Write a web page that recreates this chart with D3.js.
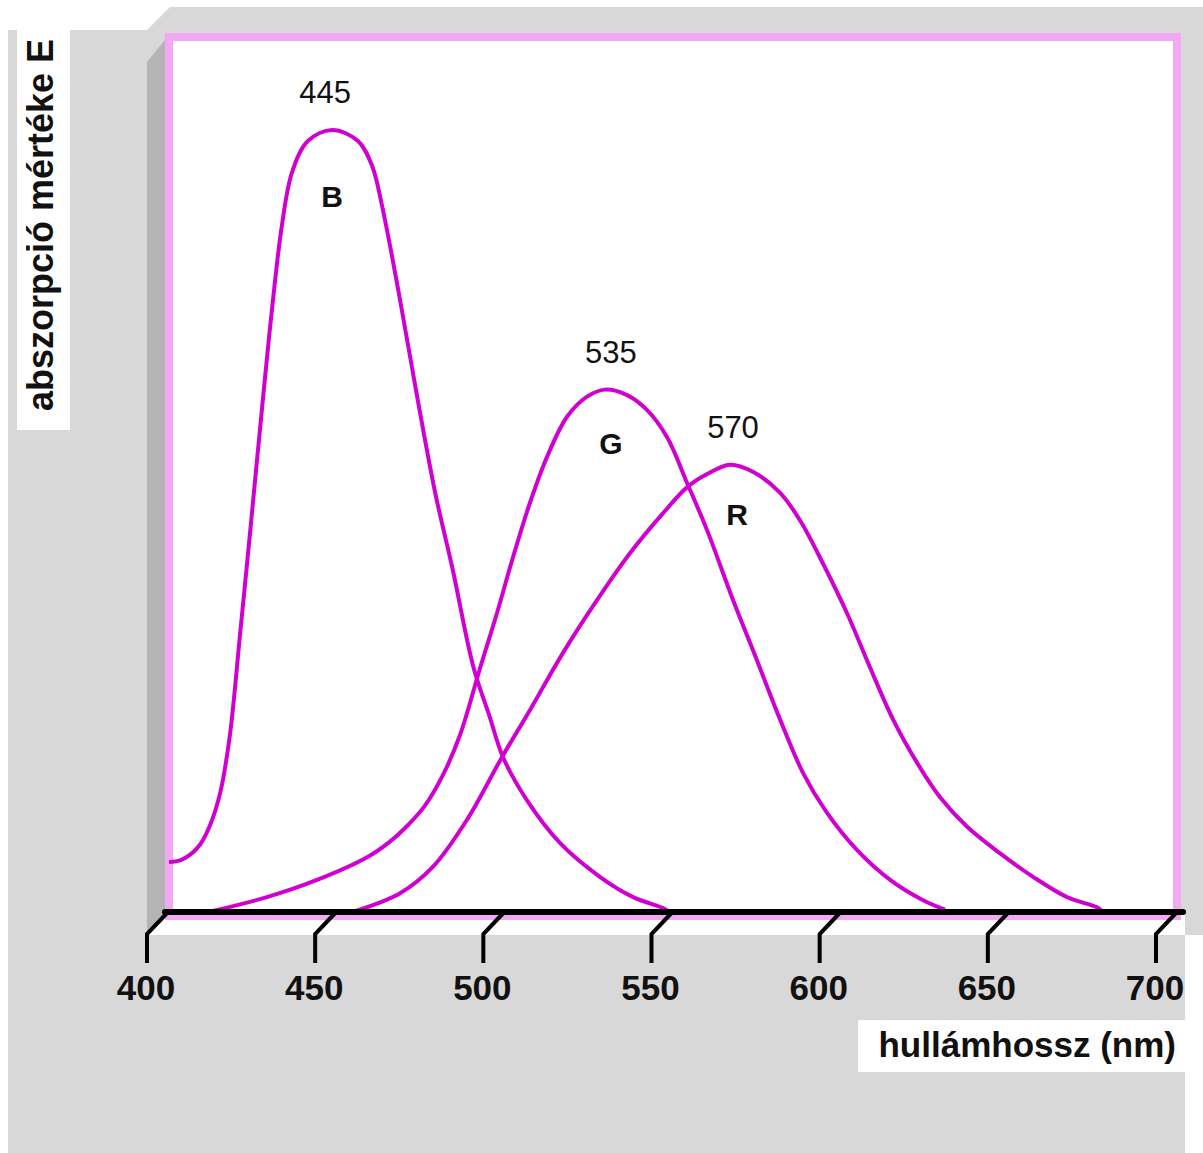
<!DOCTYPE html>
<html>
<head>
<meta charset="utf-8">
<script src="https://cdn.jsdelivr.net/npm/d3@7"></script>
<style>
  html, body { margin: 0; padding: 0; background: #ffffff; }
  svg { display: block; }
  text { font-family: "Liberation Sans", Arial, Helvetica, sans-serif; }
</style>
</head>
<body>
<div id="chart"></div>
<script>
// ---------- DATA ----------
const xTicks = [400, 450, 500, 550, 600, 650, 700];
const seriesNames = ["B", "G", "R"];
const peakLabels = ["445", "535", "570"];

// wavelength (nm) / relative absorption
const blueNm  = [400.3,403.6,406.5,409.5,412.5,415.5,418.4,421.4,424.4,428.2,430.9,433.9,436.9,441.6,448.8,456.5,460.7,463.6,468.4,474.0,479.4,484.7,490.7,495.7,499.6,506.7,516.6,528.4,538.3,547.2,548.7];
const blueVal = [6.4,6.6,7.3,8.6,11.1,15.2,22.6,35.4,48.5,65.5,77.0,87.9,94.6,98.6,100,98.6,95.4,90.4,79.7,66.1,53.7,43.7,31.5,24.9,19.8,14.3,8.8,4.5,1.9,0.5,0.1];

const greenNm  = [413.1,429.4,444.3,459.2,466.0,471.1,476.4,481.5,486.8,492.8,497.8,502.6,507.6,512.7,518.6,524.6,529.9,536.5,542.4,548.4,554.3,560.3,568.0,575.1,582.0,588.8,595.9,604.9,614.7,624.5,631.0];
const greenVal = [0.1,1.9,4.1,7.0,9.0,11.0,13.6,17.3,22.6,31.2,38.2,45.4,52.3,58.2,63.3,65.9,66.8,66.1,64.2,60.7,54.9,48.8,39.9,32.2,24.6,17.8,12.7,7.9,4.1,1.5,0.3];

const redNm  = [455.6,469.0,478.8,488.9,499.3,507.6,517.4,527.6,537.4,547.2,554.3,560.3,567.1,573.9,582.0,587.9,594.7,601.9,608.7,615.6,622.7,629.5,637.6,647.4,657.2,667.3,676.2,677.7];
const redVal = [0.1,2.4,5.8,11.8,19.8,25.8,33.1,39.9,45.9,51.0,54.3,56.0,57.2,56.3,53.6,50.1,44.6,38.2,31.3,24.6,19.1,14.7,10.9,7.5,4.5,1.9,0.6,0.1];

const yLabel = "abszorpció mértéke E";
const xLabel = "hullámhossz (nm)";

// ---------- LAYOUT ----------
const W = 1203, H = 1153;
const GRAY = "#d8d8d8", WALL = "#b4b4b4", PINK = "#f4a8f4", CURVE = "#d000d0";

const svg = d3.select("#chart").append("svg").attr("width", W).attr("height", H);

const x = d3.scaleLinear().domain([400, 700]).range([168, 1177]);
const y = d3.scaleLinear().domain([0, 100]).range([912, 130]);
const axisY = y(0);

// background gray shape
svg.append("path")
  .attr("d", "M8,30 L147,30 L170,7 L1203,7 L1203,935 L1185,935 L1185,1153 L8,1153 Z")
  .attr("fill", GRAY);

// y label box
svg.append("rect").attr("x", 17).attr("y", 30).attr("width", 53).attr("height", 400).attr("fill", "#fff");
svg.append("text")
  .attr("transform", "translate(53,225) rotate(-90)")
  .attr("text-anchor", "middle")
  .attr("font-size", 36).attr("font-weight", "bold").attr("fill", "#111")
  .text(yLabel);

// left wall
svg.append("path")
  .attr("d", `M147,62 L165,40 L165,${axisY} L147,${axisY + 22} Z`)
  .attr("fill", WALL);

// floor
svg.append("path")
  .attr("d", `M165,${axisY} L1185,${axisY} L1185,${axisY + 23} L147,${axisY + 23} Z`)
  .attr("fill", "#fff");

// plot area with pink border
svg.append("rect")
  .attr("x", 169).attr("y", 37).attr("width", 1008).attr("height", axisY - 37 + 4)
  .attr("fill", "#fff").attr("stroke", PINK).attr("stroke-width", 8);

// clip for curves
svg.append("clipPath").attr("id", "plotclip")
  .append("rect").attr("x", 168).attr("y", 40).attr("width", 1010).attr("height", axisY - 40);

const line = d3.line()
  .x(d => x(d[0])).y(d => y(d[1]))
  .curve(d3.curveCatmullRom.alpha(0.5));

const series = [
  d3.zip(blueNm, blueVal),
  d3.zip(greenNm, greenVal),
  d3.zip(redNm, redVal)
];

const g = svg.append("g").attr("clip-path", "url(#plotclip)");
series.forEach(s => {
  g.append("path").datum(s)
    .attr("d", line)
    .attr("fill", "none")
    .attr("stroke", CURVE)
    .attr("stroke-width", 4)
    .attr("stroke-linejoin", "round");
});

// peak labels
const letterOffset = [77, 64, 60];
const numberDx = [-7, 6, 3];
const letterDx = [0, 6, 7];
series.forEach((s, i) => {
  const peak = s.reduce((a, b) => (b[1] > a[1] ? b : a));
  const px = x(peak[0]), py = y(peak[1]);
  svg.append("text")
    .attr("x", px + numberDx[i]).attr("y", py - 27)
    .attr("text-anchor", "middle")
    .attr("font-size", 31).attr("fill", "#111")
    .text(peakLabels[i]);
  svg.append("text")
    .attr("x", px + letterDx[i]).attr("y", py + letterOffset[i])
    .attr("text-anchor", "middle")
    .attr("font-size", 30).attr("font-weight", "bold").attr("fill", "#111")
    .text(seriesNames[i]);
});

// x axis line
svg.append("line")
  .attr("x1", 165).attr("x2", 1183).attr("y1", axisY).attr("y2", axisY)
  .attr("stroke", "#000").attr("stroke-width", 6).attr("stroke-linecap", "round");

// ticks (slanted)
const ticks = svg.append("g");
xTicks.forEach(v => {
  const tx = x(v);
  ticks.append("path")
    .attr("d", `M${tx},${axisY} L${tx - 21},${axisY + 22} L${tx - 21},${axisY + 51}`)
    .attr("fill", "none").attr("stroke", "#000").attr("stroke-width", 4)
    .attr("stroke-linejoin", "miter");
  ticks.append("text")
    .attr("x", tx - 22).attr("y", 1000)
    .attr("text-anchor", "middle")
    .attr("font-size", 35).attr("font-weight", "bold").attr("fill", "#111")
    .text(v);
});

// x label box
svg.append("rect").attr("x", 858).attr("y", 1020).attr("width", 327).attr("height", 52).attr("fill", "#fff");
svg.append("text")
  .attr("x", 1176).attr("y", 1057)
  .attr("text-anchor", "end")
  .attr("font-size", 35).attr("font-weight", "bold").attr("fill", "#111")
  .text(xLabel);
</script>
</body>
</html>
